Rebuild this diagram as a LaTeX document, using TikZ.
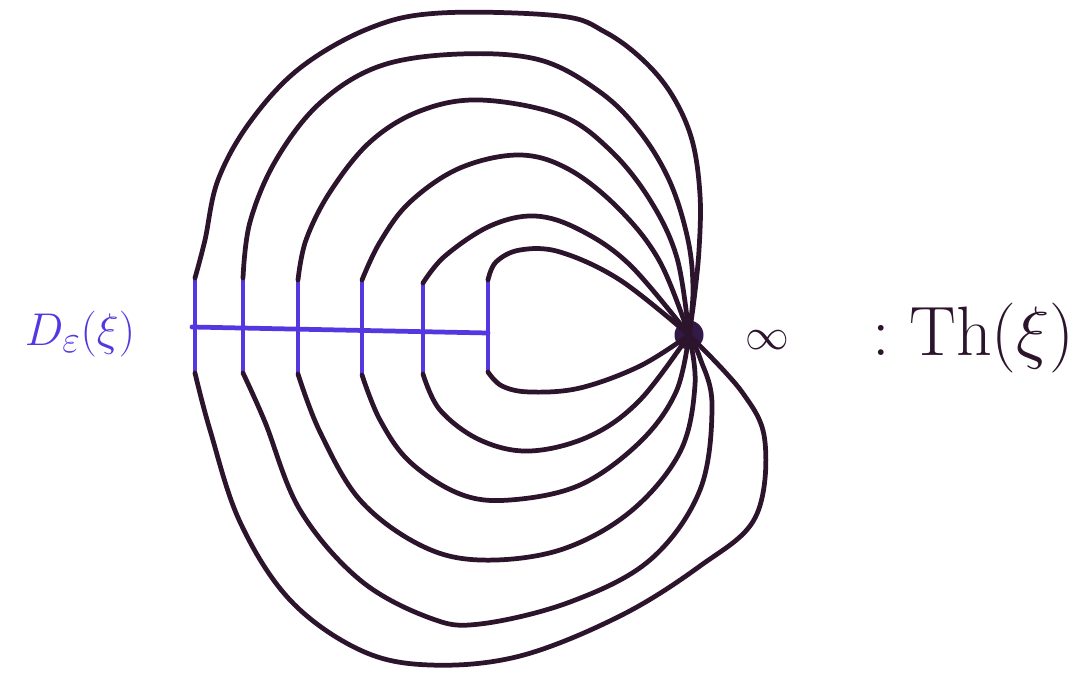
\documentclass[tikz,border=0pt]{standalone}
\usepackage{amsmath}
\usepackage{tikz}
\usepackage{xcolor}
\usetikzlibrary{positioning}

\definecolor{inkblue}{RGB}{85,55,225}
\definecolor{inkdark}{RGB}{45,20,45}

\begin{document}
\begin{tikzpicture}[x=0.02cm, y=-0.02cm,
loop/.style={draw=inkdark, line width=2.7pt, line cap=round, line join=round},
disc/.style={draw=inkblue, line width=2.7pt, line cap=round},
lbl/.style={inner sep=0pt, font=\fontsize{24.88}{30}\selectfont}
]
\useasboundingbox[fill=white] (0,0) rectangle (1092,679);

% the Thom space point at infinity
\node[circle, fill=inkdark!85!inkblue, minimum size=0.58cm, inner sep=0pt] (pt) at (689,335) {};
\node[lbl, text=inkdark] (infty) at (767,340) {$\infty$};
\node[lbl, text=inkdark, scale=1.6, anchor=west] (th) at (872,338) {$:\mathrm{Th}(\xi)$};

% disc bundle fibres
\foreach \n/\x/\yt/\yb in {1/195/278/373, 2/243/278/373, 3/298/280/374, 4/362/280/375, 5/423/283/374, 6/488/280/372}{
  \coordinate (t\n) at (\x,\yt);
  \coordinate (b\n) at (\x,\yb);
  \draw[disc] (t\n) -- (b\n);
}
\coordinate (base0) at (192,327);
\coordinate (base1) at (488,333);
\draw[disc] (base0) -- (base1);
\node[lbl, text=inkblue, scale=1.05] (disc) at (80,334) {$D_{\varepsilon}(\xi)$};

% upper halves of the spheres
\draw[loop] plot[smooth, tension=0.6] coordinates {(t1) (205,240) (218,180) (250,122) (300,68) (370,28) (440,13) (560,16) (605,32) (643,60) (672,95) (692,140) (700,195) (699,250) (694,300) (pt)};
\draw[loop] plot[smooth, tension=0.6] coordinates {(t2) (250,222) (276,160) (320,103) (380,66) (460,54) (540,60) (600,92) (640,132) (670,182) (688,240) (693,290) (pt)};
\draw[loop] plot[smooth, tension=0.6] coordinates {(t3) (306,240) (330,192) (370,142) (420,111) (480,100) (560,115) (610,150) (650,200) (677,258) (pt)};
\draw[loop] plot[smooth, tension=0.6] coordinates {(t4) (380,242) (410,202) (460,168) (520,155) (570,170) (620,210) (660,262) (pt)};
\draw[loop] plot[smooth, tension=0.6] coordinates {(t5) (445,256) (490,226) (535,216) (580,230) (630,265) (pt)};
\draw[loop] plot[smooth, tension=0.6] coordinates {(t6) (496,262) (520,250) (560,252) (620,280) (pt)};

% lower halves
\draw[loop] plot[smooth, tension=0.6] coordinates {(b6) (502,386) (530,392) (580,388) (640,366) (pt)};
\draw[loop] plot[smooth, tension=0.6] coordinates {(b5) (440,410) (480,440) (530,451) (590,436) (640,400) (pt)};
\draw[loop] plot[smooth, tension=0.6] coordinates {(b4) (380,420) (410,462) (460,494) (510,500) (580,485) (640,442) (676,392) (pt)};
\draw[loop] plot[smooth, tension=0.6] coordinates {(b3) (320,432) (360,500) (420,545) (480,560) (560,550) (630,512) (680,452) (695,385) (pt)};
\draw[loop] plot[smooth, tension=0.6] coordinates {(b2) (265,422) (300,510) (360,580) (430,618) (480,624) (570,602) (650,560) (700,490) (712,405) (700,358) (pt)};
\draw[loop] plot[smooth, tension=0.6] coordinates {(b1) (210,430) (240,522) (290,600) (360,650) (430,665) (520,656) (620,616) (700,566) (755,518) (765,442) (742,392) (pt)};
\end{tikzpicture}
\end{document}
